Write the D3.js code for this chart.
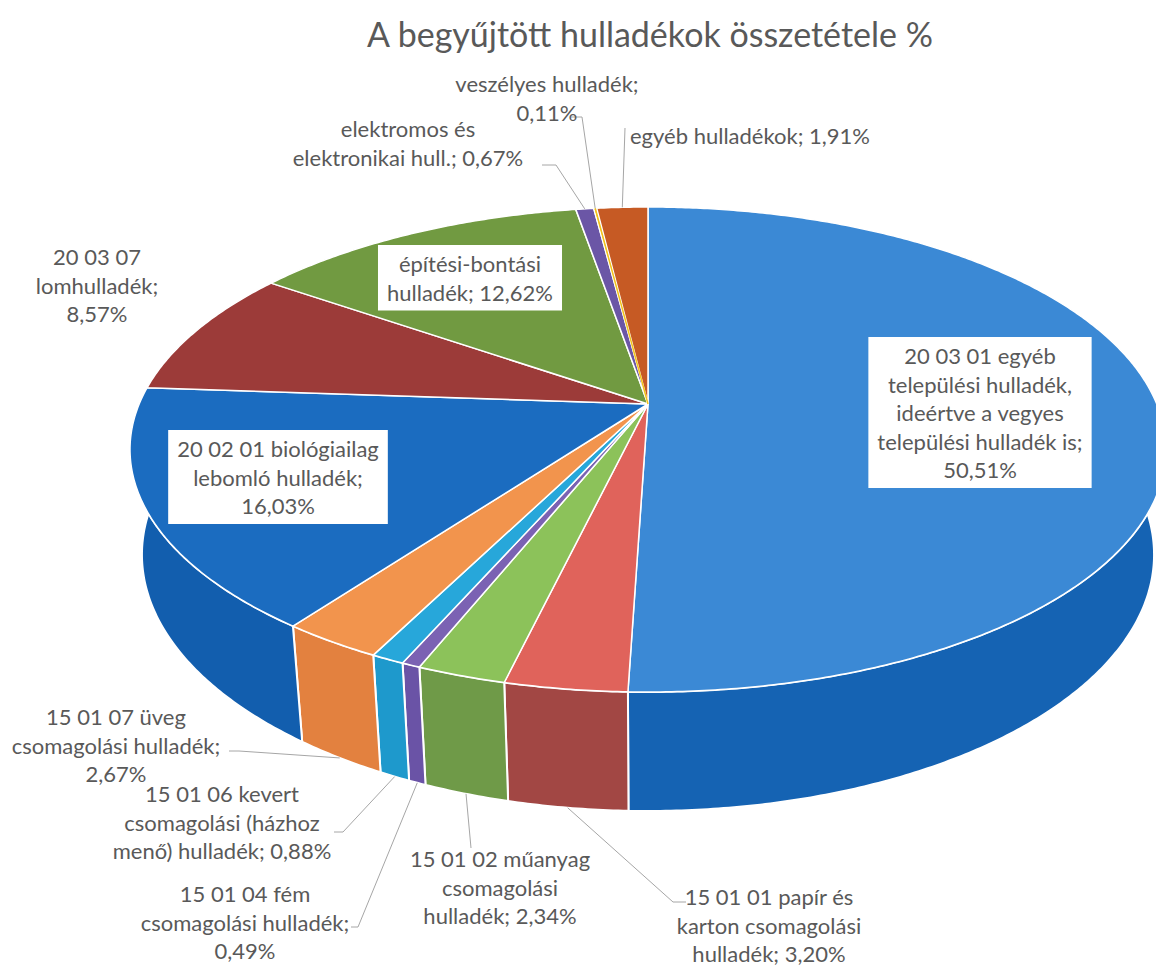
<!DOCTYPE html>
<html>
<head>
<meta charset="utf-8">
<script src="https://cdn.jsdelivr.net/npm/d3@7"></script>
<style>
  body { margin: 0; background: #ffffff; }
  svg text { font-family: Lato, "Open Sans", sans-serif; fill: #595959; }
</style>
</head>
<body>
<div id="chart"></div>
<script>
// A begyűjtött hulladékok összetétele % - 3D pie

const title = "A begyűjtött hulladékok összetétele %";

const categories = [
    "20 03 01 egyéb települési hulladék, ideértve a vegyes települési hulladék is",
    "15 01 01 papír és karton csomagolási hulladék",
    "15 01 02 műanyag csomagolási hulladék",
    "15 01 04 fém csomagolási hulladék",
    "15 01 06 kevert csomagolási (házhoz menő) hulladék",
    "15 01 07 üveg csomagolási hulladék",
    "20 02 01 biológiailag lebomló hulladék",
    "20 03 07 lomhulladék",
    "építési-bontási hulladék",
    "elektromos és elektronikai hull.",
    "veszélyes hulladék",
    "egyéb hulladékok"
];

const values = [50.51, 3.20, 2.34, 0.49, 0.88, 2.67, 16.03, 8.57, 12.62, 0.67, 0.11, 1.91];

// label text as shown, line by line
const labelLines = [
    ["20 03 01 egyéb", "települési hulladék,", "ideértve a vegyes", "települési hulladék is;", "50,51%"],
    ["15 01 01 papír és", "karton csomagolási", "hulladék; 3,20%"],
    ["15 01 02 műanyag", "csomagolási", "hulladék; 2,34%"],
    ["15 01 04 fém", "csomagolási hulladék;", "0,49%"],
    ["15 01 06 kevert", "csomagolási (házhoz", "menő) hulladék; 0,88%"],
    ["15 01 07 üveg", "csomagolási hulladék;", "2,67%"],
    ["20 02 01 biológiailag", "lebomló hulladék;", "16,03%"],
    ["20 03 07", "lomhulladék;", "8,57%"],
    ["építési-bontási", "hulladék; 12,62%"],
    ["elektromos és", "elektronikai hull.; 0,67%"],
    ["veszélyes hulladék;", "0,11%"],
    ["egyéb hulladékok; 1,91%"]
];

const topColors  = ["#3b89d5", "#e0635b", "#8cc25a", "#7b62b3", "#27a7da", "#f2944d",
                    "#1b6cc0", "#9c3b39", "#719a41", "#6b56a6", "#f2c21b", "#c65a24"];
const sideColors = ["#1563b3", "#a24744", "#6f9a48", "#6a53a6", "#1e99cc", "#e3813f",
                    "#125eae", "#86302e", "#5e8435", "#5a4592", "#d8aa10", "#ad4a18"];

const W = 1156, H = 967;

const svg = d3.select("#chart").append("svg")
    .attr("width", W)
    .attr("height", H);

svg.append("text")
    .attr("x", 650)
    .attr("y", 47)
    .attr("text-anchor", "middle")
    .attr("font-size", "34px")
    .text(title);

// ---- perspective projection of the tilted disc ----
const vx = 648, vy = 404;        // pie centre on screen
const T = vy - 207;              // distance to back edge
const B = 692 - vy;              // distance to front edge
const S = 811 - vy;              // distance to front bottom edge
const k = (B - T) / (B + T);
const a = 518 * Math.sqrt(1 - k * k);
const sinA = T * (1 + k) / a, cosA = Math.sqrt(1 - sinA * sinA);
const R = k / cosA, f = a / R;
const depth = (S * (1 - R * cosA) - f * R * sinA) / (f * cosA - S * sinA);

function proj(theta, bottom) {
    const X = R * Math.sin(theta), Z = R * Math.cos(theta), Y = bottom ? -depth : 0;
    const u = Y * cosA + Z * sinA;
    const d = 1 + Z * cosA - Y * sinA;
    return [vx + f * X / d, vy - f * u / d];
}

function arcPoints(a0, a1, bottom) {
    const n = Math.max(2, Math.ceil((a1 - a0) / (Math.PI / 360)));
    return d3.range(n + 1).map(i => proj(a0 + (a1 - a0) * i / n, bottom));
}

const pie = d3.pie().value(d => d).sort(null).startAngle(0).endAngle(2 * Math.PI);
const slices = pie(values);

const line = d3.line();

// side walls (front half only)
const walls = svg.append("g");
slices.forEach((s, i) => {
    const a0 = Math.max(s.startAngle, Math.PI / 2), a1 = Math.min(s.endAngle, 3 * Math.PI / 2);
    if (a1 <= a0) return;
    const pts = arcPoints(a0, a1, false).concat(arcPoints(a0, a1, true).reverse());
    walls.append("path")
        .attr("d", line(pts) + "Z")
        .attr("fill", sideColors[i])
        .attr("stroke", "#ffffff")
        .attr("stroke-width", 2)
        .attr("stroke-linejoin", "round");
});

// top faces
const tops = svg.append("g");
slices.forEach((s, i) => {
    const pts = [[vx, vy]].concat(arcPoints(s.startAngle, s.endAngle, false));
    tops.append("path")
        .attr("d", line(pts) + "Z")
        .attr("fill", topColors[i])
        .attr("stroke", "#ffffff")
        .attr("stroke-width", 1.5)
        .attr("stroke-linejoin", "round");
});
// the tiny slice would vanish under the white borders, so redraw its fill on top
slices.filter(s => s.endAngle - s.startAngle < 0.01).forEach(s => {
    const i = s.index;
    const mid = (s.startAngle + s.endAngle) / 2;
    tops.append("path")
        .attr("d", line([[vx, vy], proj(mid, false)]))
        .attr("stroke", topColors[i])
        .attr("stroke-width", 1.5);
});

// ---- labels ----
// cx, y: centre and first baseline; box: white background; lead: label side of the leader line
const labelPos = [
    { cx: 980, y: 364, box: true },
    { cx: 769, y: 905, lead: [[686, 902], [673, 902]], bottom: true },
    { cx: 500, y: 867, lead: [[471, 848]], bottom: true },
    { cx: 245, y: 902, lead: [[351, 927], [358, 927]], bottom: true },
    { cx: 222, y: 802, lead: [[334, 832], [343, 832]], bottom: true },
    { cx: 116, y: 725, lead: [[229, 751], [239, 751]], bottom: true },
    { cx: 278, y: 457, box: true },
    { cx: 97, y: 265 },
    { cx: 470, y: 272, box: true },
    { cx: 408, y: 137, lead: [[542, 165], [556, 165]] },
    { cx: 547, y: 92, lead: [[571, 117], [582, 117]] },
    { cx: 0, y: 144, lead: [[625, 128]], left: 630 }
];

const lineH = 28.5;
const leaders = svg.append("g");
const labels = svg.append("g");

slices.forEach((s, i) => {
    const p = labelPos[i];
    if (p.lead) {
        const mid = (s.startAngle + s.endAngle) / 2;
        const pts = p.lead.concat([proj(mid, !!p.bottom)]);
        leaders.append("path")
            .attr("d", line(pts))
            .attr("fill", "none")
            .attr("stroke", "#a6a6a6")
            .attr("stroke-width", 1);
    }
    const g = labels.append("g");
    const t = g.append("text")
        .attr("font-size", "22px")
        .attr("text-anchor", p.left ? "start" : "middle");
    labelLines[i].forEach((ln, j) => {
        t.append("tspan")
            .attr("x", p.left ? p.left : p.cx)
            .attr("y", p.y + j * lineH)
            .text(ln);
    });
    if (p.box) {
        const bb = t.node().getBBox();
        g.insert("rect", "text")
            .attr("x", bb.x - 9)
            .attr("y", bb.y - 5)
            .attr("width", bb.width + 18)
            .attr("height", bb.height + 10)
            .attr("fill", "#ffffff");
    }
});
</script>
</body>
</html>
